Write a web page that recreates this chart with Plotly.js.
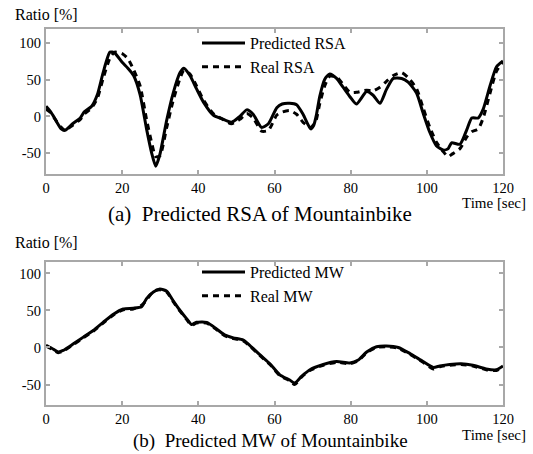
<!DOCTYPE html>
<html>
<head>
<meta charset="utf-8">
<script src="https://cdn.plot.ly/plotly-3.0.1.min.js"></script>
<style>html,body{margin:0;padding:0;background:#fff;}#chart{width:533px;height:454px;}</style>
</head>
<body>
<div id="chart"></div>
<script>
// ---- data ----
var rsaTime = [0,1,2,4,5,7,9,10,12,13.5,15,16.8,18,20,21.5,23,24.7,26.4,27.7,28.8,29.9,31.7,33.4,35.2,36.2,37.8,39.5,41.3,43.9,46.1,48.7,50.9,52.7,54.4,56.6,58.4,60.6,62,64,65.8,67.5,69.5,70.3,71,71.9,73.2,74.5,76.3,78,79.8,81.5,84.2,85.9,87.7,89.4,91.2,93.4,95.1,97.3,99,100.8,102.5,104.3,105.6,106.5,108.7,110.5,111.8,113.5,114.8,116.6,118.3,120];
var rsaPred = [14,8,0,-17,-19,-10,-2,6,14,30,60,88,87,74,66,56,30,-17,-49,-68,-52,-5,32,60,66,56,38,20,2,-3,-8,0,9,3,-15,-10,12,17,18,16,3,-17,-12,2,28,51,58,52,40,27,17,34,29,18,37,52,52,47,32,5,-22,-40,-46,-44,-36,-38,-18,-2,-2,10,42,68,76];
var rsaReal = [10,6,-1,-15,-19,-12,-4,3,12,25,52,80,88,86,79,64,42,-4,-35,-55,-54,-15,22,52,63,58,42,23,4,-3,-10,-4,4,-2,-20,-19,2,6,8,3,-8,-15,-11,-4,18,42,55,54,44,33,33,36,35,40,48,56,60,53,38,12,-15,-35,-48,-55,-52,-44,-28,-21,-17,-2,32,62,75];

var mwTime = [0,1.5,3.2,4.5,7.2,9.8,12.4,15,17.7,20.3,22.9,25.1,26.4,28.2,29.9,31.7,33.4,35.2,36.9,38.2,39.5,42.2,44.8,46.9,49.2,51.8,53.5,56.2,58.8,61.4,64,65.3,67.1,69.3,72.8,76.3,79.8,82,84.2,86.8,89.4,92.5,95.5,99,101.7,103.4,106,109,112.1,115.6,118.3,120];
var mwPred = [3,-1,-6,-4,5,14,23,34,45,52,53,55,66,75,79,76,63,50,39,31,34,34,25,17,13,10,3,-10,-22,-37,-44,-48,-39,-30,-23,-19,-21,-17,-6,1,2,0,-8,-19,-27,-25,-23,-22,-24,-29,-30,-25];
var mwReal = [2,-2,-7,-5,4,13,22,33,44,51,52,57,64,76,78,75,62,49,38,30,33,33,24,16,12,9,2,-11,-23,-38,-45,-50,-40,-31,-24,-20,-22,-18,-7,0,1,-1,-9,-20,-29,-26,-24,-23,-25,-30,-31,-26];

var xTicks = [0,20,40,60,80,100,120];
var yTicks = [-50,0,50,100];
var legendNames = ['Predicted RSA','Real RSA','Predicted MW','Real MW'];
var captions = ['(a)  Predicted RSA of Mountainbike','(b)  Predicted MW of Mountainbike'];

// ---- chart ----
var FONT = '"Liberation Serif", "DejaVu Serif", serif';
var W = 533, H = 454;
function px(x){return x/W;}
function py(y){return 1 - y/H;}

var solid = {color:'#000', width:3, shape:'spline', smoothing:0.6};
var dashed = {color:'#000', width:3, dash:'6px,5px', shape:'spline', smoothing:0.6};

var traces = [
  {x:rsaTime, y:rsaReal, name:legendNames[1], mode:'lines', line:dashed, xaxis:'x', yaxis:'y', legend:'legend', legendrank:2},
  {x:rsaTime, y:rsaPred, name:legendNames[0], mode:'lines', line:solid, xaxis:'x', yaxis:'y', legend:'legend', legendrank:1},
  {x:mwTime, y:mwReal, name:legendNames[3], mode:'lines', line:dashed, xaxis:'x2', yaxis:'y2', legend:'legend2', legendrank:2},
  {x:mwTime, y:mwPred, name:legendNames[2], mode:'lines', line:solid, xaxis:'x2', yaxis:'y2', legend:'legend2', legendrank:1}
];

function xax(anchor, dom){
  return {domain:dom, anchor:anchor, range:[0,120], tickvals:xTicks, ticktext:xTicks.map(String),
    showline:true, linecolor:'#a8a8a8', linewidth:2, mirror:'ticks', ticks:'inside', ticklen:4,
    tickcolor:'#a8a8a8', tickwidth:2, showgrid:false, zeroline:false,
    tickfont:{family:FONT, size:14.5, color:'#000'}, fixedrange:true};
}
function yax(anchor, dom, rng){
  return {domain:dom, anchor:anchor, range:rng, tickvals:yTicks, ticktext:yTicks.map(String),
    showline:true, linecolor:'#a8a8a8', linewidth:2, mirror:'ticks', ticks:'inside', ticklen:4,
    tickcolor:'#a8a8a8', tickwidth:2, showgrid:false, zeroline:false,
    tickfont:{family:FONT, size:14.5, color:'#000'}, fixedrange:true};
}

var xd = [px(46), px(503)];
var legendCommon = {xanchor:'left', yanchor:'top', bgcolor:'rgba(0,0,0,0)', borderwidth:0,
  font:{family:FONT, size:16, color:'#000'}, itemwidth:43, tracegroupgap:0, traceorder:'normal'};

var layout = {
  width:W, height:H, margin:{l:0,r:0,t:0,b:0}, paper_bgcolor:'#fff', plot_bgcolor:'#fff',
  font:{family:FONT, color:'#000'},
  xaxis: xax('y', xd),
  yaxis: yax('x', [py(174), py(29)], [-78.7, 119.6]),
  xaxis2: xax('y2', xd),
  yaxis2: yax('x2', [py(405), py(262)], [-77.7, 115.5]),
  showlegend:true,
  legend: Object.assign({x:px(197), y:py(26)}, legendCommon),
  legend2: Object.assign({x:px(197), y:py(255)}, legendCommon),
  annotations:[
    {text:'Ratio [%]', xref:'paper', yref:'paper', x:px(13), y:py(14), xanchor:'left', yanchor:'middle', showarrow:false, font:{family:FONT, size:16, color:'#000'}},
    {text:'Time [sec]', xref:'paper', yref:'paper', x:px(528), y:py(203), xanchor:'right', yanchor:'middle', showarrow:false, font:{family:FONT, size:15, color:'#000'}},
    {text:captions[0], xref:'paper', yref:'paper', x:px(260), y:py(214), xanchor:'center', yanchor:'middle', showarrow:false, font:{family:FONT, size:21, color:'#000'}},
    {text:'Ratio [%]', xref:'paper', yref:'paper', x:px(13), y:py(242), xanchor:'left', yanchor:'middle', showarrow:false, font:{family:FONT, size:16, color:'#000'}},
    {text:'Time [sec]', xref:'paper', yref:'paper', x:px(528), y:py(435), xanchor:'right', yanchor:'middle', showarrow:false, font:{family:FONT, size:15, color:'#000'}},
    {text:captions[1], xref:'paper', yref:'paper', x:px(270), y:py(441), xanchor:'center', yanchor:'middle', showarrow:false, font:{family:FONT, size:19, color:'#000'}}
  ]
};

Plotly.newPlot('chart', traces, layout, {staticPlot:true, displayModeBar:false});
</script>
</body>
</html>
